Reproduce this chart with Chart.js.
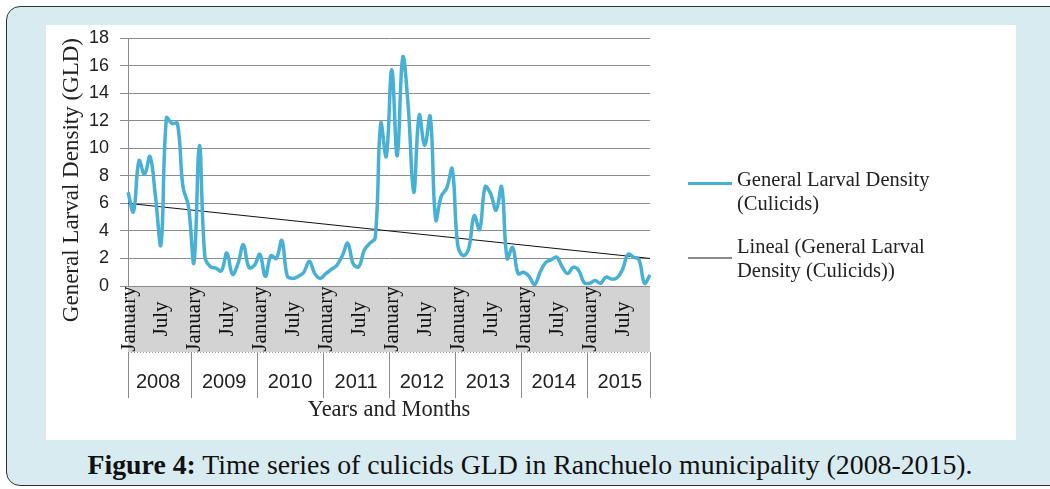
<!DOCTYPE html>
<html>
<head>
<meta charset="utf-8">
<script src="https://cdn.jsdelivr.net/npm/chart.js@4"></script>
<style>
html, body { margin: 0; padding: 0; background: #fff; }
body { width: 1050px; height: 489px; overflow: hidden; position: relative; }
#frame { position: absolute; left: 6px; top: 6px; width: 1080px; height: 478px; background: #d8ebf1; border: 1.5px solid #333; border-radius: 14px; }
#panel { position: absolute; left: 46px; top: 25px; width: 970px; height: 415px; background: #fff; }
#panel canvas { position: absolute; left: 0; top: 0; }
.swatch { position: absolute; left: 642px; width: 44px; height: 3px; }
.legtext { position: absolute; left: 691px; font: 20.5px 'Liberation Serif', serif; line-height: 24px; color: #222; white-space: nowrap; }
#caption { position: absolute; left: 0; top: 449px; width: 1060px; text-align: center; font: 27.8px 'Liberation Serif', serif; line-height: 32px; color: #111; }
</style>
</head>
<body>
<div id="frame"></div>
<div id="panel">
  <canvas id="gld-canvas" width="970" height="415"></canvas>
  <div class="swatch" style="top:157px;background:#46b1d4;"></div>
  <div class="legtext" style="top:142px;">General Larval Density<br>(Culicids)</div>
  <div class="swatch" style="top:232px;height:2px;background:#8a8a8a;"></div>
  <div class="legtext" style="top:209px;">Lineal (General Larval<br>Density (Culicids))</div>
</div>
<div id="caption"><b>Figure 4:</b> Time series of culicids GLD in Ranchuelo municipality (2008-2015).</div>

<script>
const years = ['2008', '2009', '2010', '2011', '2012', '2013', '2014', '2015'];
const month_names = ['January', 'February', 'March', 'April', 'May', 'June',
    'July', 'August', 'September', 'October', 'November', 'December'];
const shown_months = ['January', 'July'];

// general larval density, one value per month, Jan 2008 .. Dec 2015
const gld = [
    6.8, 5.4, 9.1, 8.1, 9.4, 6.5, 3.0, 12.2, 11.8, 11.8, 7.2, 5.8,
    1.7, 10.2, 2.1, 1.4, 1.3, 1.1, 2.4, 0.85, 1.6, 3.0, 1.35, 1.5,
    2.3, 0.7, 2.2, 2.0, 3.3, 0.7, 0.55, 0.7, 1.0, 1.8, 0.9, 0.55,
    0.9, 1.2, 1.5, 2.2, 3.1, 1.6, 1.4, 2.6, 3.1, 3.5, 11.8, 9.4,
    15.7, 9.45, 16.6, 13.0, 6.8, 12.4, 10.2, 12.3, 4.8, 6.5, 7.1, 8.5,
    3.0, 2.2, 2.7, 5.1, 4.1, 7.2, 6.7, 5.5, 7.2, 2.0, 2.8, 0.9,
    1.0, 0.7, 0.1, 1.0, 1.7, 1.9, 2.1, 1.4, 0.9, 1.35, 1.15, 0.25,
    0.2, 0.4, 0.2, 0.65, 0.5, 0.6, 1.2, 2.3, 2.1, 1.9, 0.2, 0.8
];

// linear trend line, value at first and last month
const trend_ends = [6.0, 2.0];

const y_ticks = [0, 2, 4, 6, 8, 10, 12, 14, 16, 18];

const labels = [];
for (const year of years) {
    for (const m of month_names) {
        labels.push(m + ' ' + year);
    }
}
const trend = labels.map((l, i) => i === 0 ? trend_ends[0] : (i === labels.length - 1 ? trend_ends[1] : null));

const band_height = 66;
const year_row_height = 46;

// grey month band + year row under the x axis
const category_band = {
    id: 'category_band',
    beforeDraw(chart) {
        const ctx = chart.ctx;
        const x = chart.scales.x;
        const top = x.top;
        ctx.save();
        ctx.fillStyle = '#d3d3d3';
        ctx.fillRect(x.left, top, x.right - x.left, band_height);

        ctx.strokeStyle = '#9a9a9a';
        ctx.lineWidth = 1;
        ctx.setLineDash([1, 2]);
        ctx.beginPath();
        ctx.moveTo(x.left, top + band_height + 0.5);
        ctx.lineTo(x.right, top + band_height + 0.5);
        ctx.stroke();
        ctx.setLineDash([]);

        // month names, rotated and centred in the band
        ctx.fillStyle = '#111';
        ctx.font = "21px 'Liberation Serif'";
        ctx.textAlign = 'center';
        ctx.textBaseline = 'middle';
        labels.forEach((l, i) => {
            const m = month_names[i % 12];
            if (!shown_months.includes(m)) return;
            ctx.save();
            ctx.translate(x.getPixelForValue(i) + 1, top + band_height / 2);
            ctx.rotate(-Math.PI / 2);
            ctx.fillText(m, 0, 0);
            ctx.restore();
        });

        // year row
        ctx.strokeStyle = '#8c8c8c';
        ctx.fillStyle = '#222';
        ctx.font = "20px 'Liberation Sans'";
        for (let k = 0; k <= years.length; k++) {
            let px;
            if (k === 0) px = x.left;
            else if (k === years.length) px = x.right;
            else px = (x.getPixelForValue(k * 12 - 1) + x.getPixelForValue(k * 12)) / 2;
            px = Math.round(px) + 0.5;
            ctx.beginPath();
            ctx.moveTo(px, top + band_height);
            ctx.lineTo(px, top + band_height + year_row_height);
            ctx.stroke();
        }
        years.forEach((year, k) => {
            const cx = (x.getPixelForValue(k * 12 + 5) + x.getPixelForValue(k * 12 + 6)) / 2;
            ctx.fillText(year, cx, top + band_height + 30);
        });
        ctx.restore();
    }
};

const ctx = document.getElementById('gld-canvas').getContext('2d');
new Chart(ctx, {
    type: 'line',
    data: {
        labels: labels,
        datasets: [{
            label: 'General Larval Density (Culicids)',
            data: gld,
            borderColor: '#46b1d4',
            borderWidth: 3.5,
            tension: 0.4,
            pointRadius: 0
        }, {
            label: 'Lineal (General Larval Density (Culicids))',
            data: trend,
            borderColor: '#111',
            borderWidth: 1,
            spanGaps: true,
            pointRadius: 0
        }]
    },
    options: {
        responsive: false,
        animation: false,
        layout: {
            padding: { left: 0, top: 13, right: 366, bottom: 4 }
        },
        plugins: {
            legend: { display: false },
            tooltip: { enabled: false }
        },
        scales: {
            x: {
                grid: { display: false, drawTicks: false },
                border: { display: false },
                ticks: { display: false },
                title: {
                    display: true,
                    text: 'Years and Months',
                    color: '#222',
                    font: { family: 'Liberation Serif', size: 22.5 },
                    padding: { top: 0, bottom: 12 }
                },
                afterFit: (scale) => { scale.height = 150; }
            },
            y: {
                min: 0,
                max: 18,
                afterBuildTicks: (scale) => { scale.ticks = y_ticks.map(v => ({ value: v })); },
                ticks: {
                    padding: 11,
                    color: '#222',
                    font: { family: 'Liberation Sans', size: 18 }
                },
                grid: { color: '#8c8c8c', tickLength: 8 },
                border: { color: '#8c8c8c' },
                title: {
                    display: true,
                    text: 'General Larval Density (GLD)',
                    color: '#222',
                    align: 'end',
                    font: { family: 'Liberation Serif', size: 23 },
                    padding: { top: 12, bottom: 0 }
                },
                afterFit: (scale) => {
                    scale.width = 82;
                    scale.paddingTop = 0;
                    scale.paddingBottom = 0;
                }
            }
        }
    },
    plugins: [category_band]
});
</script>
</body>
</html>
